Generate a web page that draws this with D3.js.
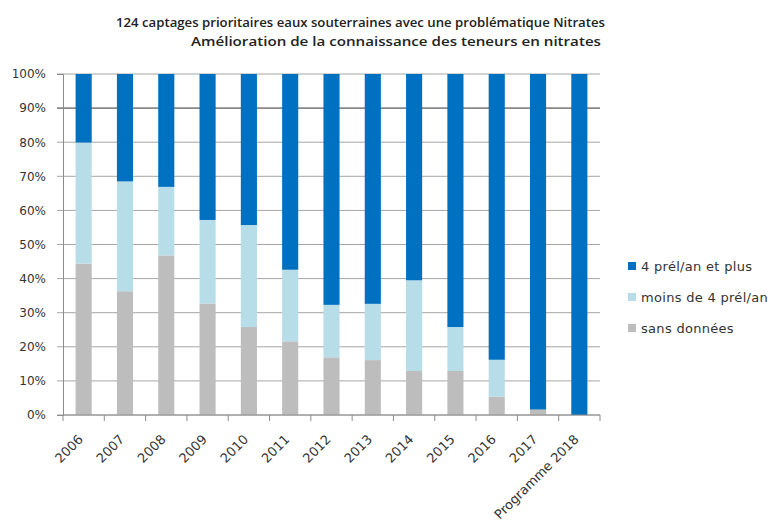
<!DOCTYPE html>
<html>
<head>
<meta charset="utf-8">
<script src="https://cdn.jsdelivr.net/npm/d3@7"></script>
<style>
  body { margin: 0; background: #fff; }
  text { font-family: "DejaVu Sans", Verdana, sans-serif; }
</style>
</head>
<body>
<div id="chart"></div>
<script>
// data (% of the 124 captages)
const years = ["2006", "2007", "2008", "2009", "2010", "2011", "2012", "2013", "2014", "2015", "2016", "2017", "Programme 2018"];
const sansDonnees = [44.4, 36.3, 46.8, 32.7, 25.8, 21.6, 16.9, 16.1, 12.9, 12.9, 5.4, 1.6, 0];
const moins4 = [35.5, 32.2, 20.1, 24.5, 29.9, 21.0, 15.4, 16.5, 26.6, 12.9, 10.8, 0, 0];
const plus4 = [20.1, 31.5, 33.1, 42.8, 44.3, 57.4, 67.7, 67.4, 60.5, 74.2, 83.8, 98.4, 100];
const yTicks = [0, 10, 20, 30, 40, 50, 60, 70, 80, 90, 100];

const seriesNames = ["sans données", "moins de 4 prél/an", "4 prél/an et plus"];
const color = d3.scaleOrdinal().domain(seriesNames).range(["#bdbdbd", "#b7dde8", "#0070c0"]);

var margin = {top: 74, right: 176, bottom: 109, left: 63},
    width = 776 - margin.left - margin.right,
    height = 524 - margin.top - margin.bottom;

var svg = d3.select("#chart")
  .append("svg")
    .attr("width", 776)
    .attr("height", 524);

// title
svg.append("text")
  .attr("x", 116).attr("y", 27)
  .attr("textLength", 489).attr("lengthAdjust", "spacingAndGlyphs")
  .style("font-family", "'Open Sans', sans-serif")
  .attr("font-weight", "600").attr("font-size", "13px").attr("fill", "#222")
  .text("124 captages  prioritaires eaux souterraines avec une problématique Nitrates");
svg.append("text")
  .attr("x", 191).attr("y", 46)
  .attr("textLength", 410).attr("lengthAdjust", "spacingAndGlyphs")
  .style("font-family", "'Open Sans', sans-serif")
  .attr("font-weight", "600").attr("font-size", "13px").attr("fill", "#222")
  .text("Amélioration de la connaissance  des teneurs en nitrates");

var g = svg.append("g")
  .attr("transform", "translate(" + margin.left + "," + margin.top + ")");

var x = d3.scaleBand()
  .domain(years)
  .range([0, width])
  .paddingInner(0.61)
  .paddingOuter(0.305);

var xTicks = d3.scaleBand().domain(years).range([0, width]);

var y = d3.scaleLinear()
  .domain([0, 100])
  .range([height, 0]);

// gridlines
g.append("g")
  .selectAll("line")
  .data(yTicks)
  .enter().append("line")
    .attr("x1", -6).attr("x2", width)
    .attr("y1", function(d) { return y(d); })
    .attr("y2", function(d) { return y(d); })
    .attr("stroke", function(d) { return d == 90 ? "#888" : "#a6a6a6"; })
    .attr("stroke-width", function(d) { return d == 90 ? 1.6 : 1; });

// stacked bars
var table = years.map(function(yr, i) {
  return {year: yr, "sans données": sansDonnees[i], "moins de 4 prél/an": moins4[i], "4 prél/an et plus": plus4[i]};
});
var stack = d3.stack().keys(seriesNames)(table);

g.selectAll(".serie")
  .data(stack)
  .enter().append("g")
    .attr("fill", function(d) { return color(d.key); })
  .selectAll("rect")
  .data(function(d) { return d; })
  .enter().append("rect")
    .attr("x", function(d) { return x(d.data.year); })
    .attr("y", function(d) { return y(Math.min(d[1], 100)); })
    .attr("width", x.bandwidth())
    .attr("height", function(d) { return y(d[0]) - y(Math.min(d[1], 100)); });

// y axis
var yAxis = g.append("g")
  .call(d3.axisLeft(y).tickValues(yTicks).tickSize(6).tickFormat(function(d) { return d + "%"; }));
yAxis.select(".domain").attr("stroke", "#8c8c8c");
yAxis.selectAll(".tick line").remove();
yAxis.selectAll("text").attr("font-size", "12px").attr("fill", "#333").attr("x", -17).style("font-family", "'DejaVu Sans', sans-serif");

// x axis with ticks between categories
var xAxis = g.append("g")
  .attr("transform", "translate(0," + height + ")");
xAxis.append("line")
  .attr("x1", 0).attr("x2", width)
  .attr("stroke", "#8c8c8c");
xAxis.selectAll(".sep")
  .data(years.concat(["end"]))
  .enter().append("line")
    .attr("x1", function(d, i) { return i * xTicks.step(); })
    .attr("x2", function(d, i) { return i * xTicks.step(); })
    .attr("y1", 0).attr("y2", 6)
    .attr("stroke", "#8c8c8c");
xAxis.selectAll(".lbl")
  .data(years)
  .enter().append("text")
    .attr("transform", function(d) {
      return "translate(" + (xTicks(d) + xTicks.bandwidth() / 2 - 3) + ",22) rotate(-45)";
    })
    .attr("text-anchor", "end")
    .attr("dy", "0.35em")
    .attr("font-size", "13px")
    .attr("fill", "#333")
    .text(function(d) { return d; });

// legend
var legend = svg.append("g")
  .attr("transform", "translate(628,266)");
var legendItems = ["4 prél/an et plus", "moins de 4 prél/an", "sans données"];
legend.selectAll("rect")
  .data(legendItems)
  .enter().append("rect")
    .attr("x", 0)
    .attr("y", function(d, i) { return i * 31 - 4; })
    .attr("width", 8).attr("height", 8)
    .attr("fill", function(d) { return color(d); });
legend.selectAll("text")
  .data(legendItems)
  .enter().append("text")
    .attr("x", 13)
    .attr("y", function(d, i) { return i * 31; })
    .attr("dy", "0.35em")
    .attr("font-size", "13px")
    .attr("letter-spacing", "0.3px")
    .attr("fill", "#333")
    .text(function(d) { return d; });
</script>
</body>
</html>
